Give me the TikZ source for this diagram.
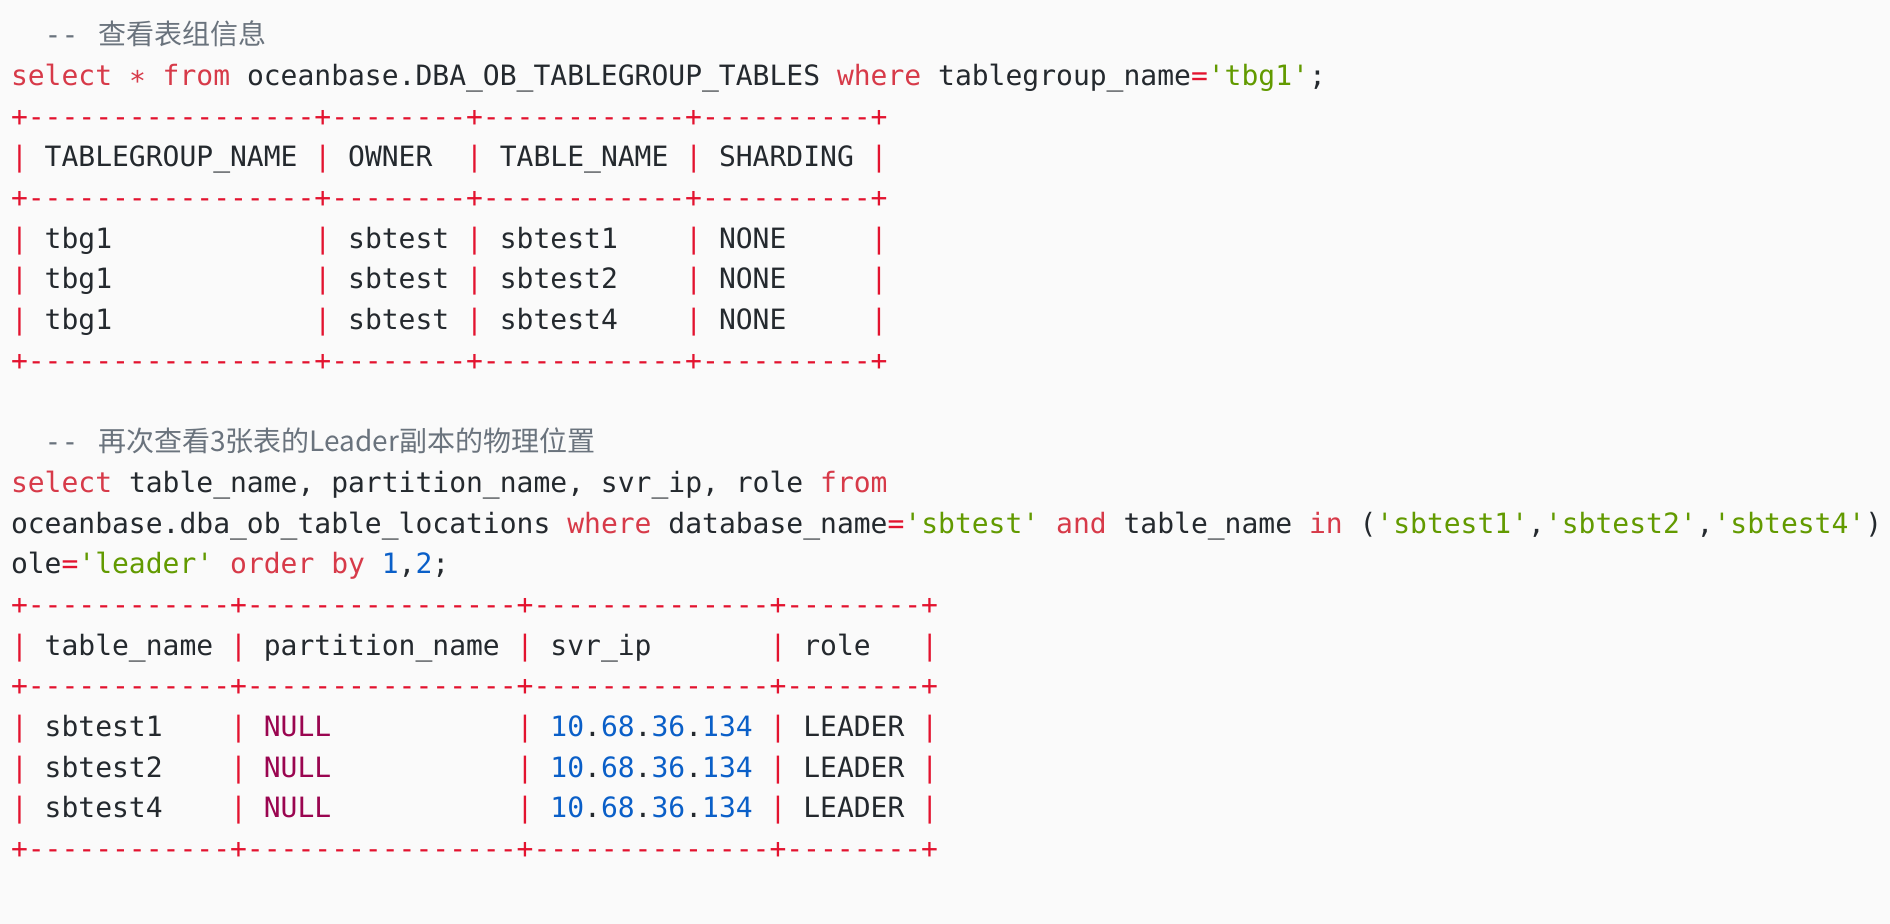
\documentclass[tikz,border=0pt]{standalone}
\usepackage{fontspec}
\setmonofont{DejaVu Sans Mono}
\newfontfamily\cjkfont{Noto Sans CJK SC}
\definecolor{bgc}{HTML}{FAFAFA}
\definecolor{txt}{HTML}{24292E}
\definecolor{kwc}{HTML}{D73A49}
\definecolor{bdc}{HTML}{E3132F}
\definecolor{strc}{HTML}{629A00}
\definecolor{numc}{HTML}{0A5FC8}
\definecolor{nulc}{HTML}{9A0550}
\definecolor{cmc}{HTML}{6A737D}
\newcommand{\Kw}[1]{\textcolor{kwc}{#1}}
\newcommand{\Bd}[1]{\textcolor{bdc}{#1}}
\newcommand{\Str}[1]{\textcolor{strc}{#1}}
\newcommand{\Num}[1]{\textcolor{numc}{#1}}
\newcommand{\Nul}[1]{\textcolor{nulc}{#1}}
\newcommand{\Cm}[1]{\textcolor{cmc}{#1}}
\newcommand{\Pp}{\Bd{|}}
\begin{document}
\begin{tikzpicture}[x=1pt,y=1pt,
  codeline/.style={anchor=base west, inner sep=0pt, outer sep=0pt,
    font=\fontsize{14}{17}\selectfont\ttfamily, text=txt}]
\fill[bgc] (0,0) rectangle (945,-462);
\useasboundingbox (0,0) rectangle (945,-462);
\node[codeline] (l1) at (5.5,-22.43) {~~\Cm{--~{\cjkfont\hspace{1.5pt}查看表组信息}}};
\node[codeline] (l2) at (5.5,-42.77) {\Kw{select}~\Kw{∗}~\Kw{from}~oceanbase.DBA\_OB\_TABLEGROUP\_TABLES~\Kw{where}~tablegroup\_name\Bd{=}\Str{'tbg1'};};
\node[codeline] (l3) at (5.5,-63.11) {\Bd{+-----------------+--------+------------+----------+}};
\node[codeline] (l4) at (5.5,-83.45) {\Pp~TABLEGROUP\_NAME~\Pp~OWNER~~\Pp~TABLE\_NAME~\Pp~SHARDING~\Pp};
\node[codeline] (l5) at (5.5,-103.79) {\Bd{+-----------------+--------+------------+----------+}};
\node[codeline] (l6) at (5.5,-124.13) {\Pp~tbg1~~~~~~~~~~~~\Pp~sbtest~\Pp~sbtest1~~~~\Pp~NONE~~~~~\Pp};
\node[codeline] (l7) at (5.5,-144.47) {\Pp~tbg1~~~~~~~~~~~~\Pp~sbtest~\Pp~sbtest2~~~~\Pp~NONE~~~~~\Pp};
\node[codeline] (l8) at (5.5,-164.81) {\Pp~tbg1~~~~~~~~~~~~\Pp~sbtest~\Pp~sbtest4~~~~\Pp~NONE~~~~~\Pp};
\node[codeline] (l9) at (5.5,-185.15) {\Bd{+-----------------+--------+------------+----------+}};
\node[codeline] (l11) at (5.5,-225.83) {~~\Cm{--~{\cjkfont\hspace{1.5pt}再次查看3张表的Leader副本的物理位置}}};
\node[codeline] (l12) at (5.5,-246.17) {\Kw{select}~table\_name,~partition\_name,~svr\_ip,~role~\Kw{from}};
\node[codeline] (l13) at (5.5,-266.51) {oceanbase.dba\_ob\_table\_locations~\Kw{where}~database\_name\Bd{=}\Str{'sbtest'}~\Kw{and}~table\_name~\Kw{in}~(\Str{'sbtest1'},\Str{'sbtest2'},\Str{'sbtest4'})};
\node[codeline] (l14) at (5.5,-286.85) {ole\Bd{=}\Str{'leader'}~\Kw{order}~\Kw{by}~\Num{1},\Num{2};};
\node[codeline] (l15) at (5.5,-307.19) {\Bd{+------------+----------------+--------------+--------+}};
\node[codeline] (l16) at (5.5,-327.53) {\Pp~table\_name~\Pp~partition\_name~\Pp~svr\_ip~~~~~~~\Pp~role~~~\Pp};
\node[codeline] (l17) at (5.5,-347.87) {\Bd{+------------+----------------+--------------+--------+}};
\node[codeline] (l18) at (5.5,-368.21) {\Pp~sbtest1~~~~\Pp~\Nul{NULL}~~~~~~~~~~~\Pp~\Num{10}.\Num{68}.\Num{36}.\Num{134}~\Pp~LEADER~\Pp};
\node[codeline] (l19) at (5.5,-388.55) {\Pp~sbtest2~~~~\Pp~\Nul{NULL}~~~~~~~~~~~\Pp~\Num{10}.\Num{68}.\Num{36}.\Num{134}~\Pp~LEADER~\Pp};
\node[codeline] (l20) at (5.5,-408.89) {\Pp~sbtest4~~~~\Pp~\Nul{NULL}~~~~~~~~~~~\Pp~\Num{10}.\Num{68}.\Num{36}.\Num{134}~\Pp~LEADER~\Pp};
\node[codeline] (l21) at (5.5,-429.23) {\Bd{+------------+----------------+--------------+--------+}};
\end{tikzpicture}
\end{document}
